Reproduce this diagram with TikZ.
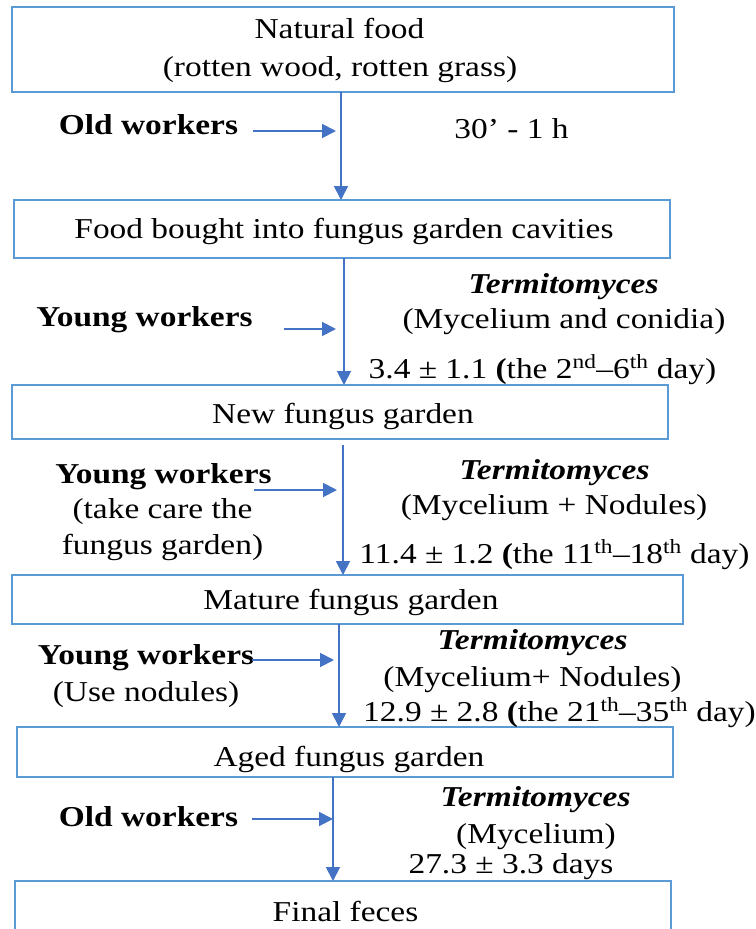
\documentclass[tikz,border=0pt]{standalone}
\usepackage{fontspec}
\setmainfont{Liberation Serif}[FakeStretch=1.16]
\usetikzlibrary{arrows.meta}
\definecolor{boxblue}{HTML}{5B9BD5}
\definecolor{arrblue}{HTML}{4472C4}
\tikzset{
  box/.style={draw=boxblue, line width=1.7pt, inner sep=0pt},
  lbl/.style={anchor=base, inner sep=0pt, font=\fontsize{28.8}{32}\selectfont, text=black},
  blbl/.style={lbl, font=\fontsize{28.8}{32}\selectfont\bfseries},
  ilbl/.style={lbl, font=\fontsize{28.8}{32}\selectfont\bfseries\itshape},
  arr/.style={draw=arrblue, line width=1.9pt, -{Triangle[length=14pt,width=14pt]}},
}
\begin{document}
\begin{tikzpicture}[x=1pt,y=-1pt]
\clip (0,0) rectangle (755,929);
\fill[white] (0,0) rectangle (755,929);

% boxes
\node[box, minimum width=662pt, minimum height=85pt] (b1) at (343,49.5) {};
\node[box, minimum width=656pt, minimum height=58pt] (b2) at (342,229) {};
\node[box, minimum width=656pt, minimum height=54pt] (b3) at (340,412) {};
\node[box, minimum width=671pt, minimum height=49pt] (b4) at (347.5,599.5) {};
\node[box, minimum width=656pt, minimum height=50pt] (b5) at (345,752) {};
\node[box, minimum width=656pt, minimum height=80pt] (b6) at (343,921) {};

% box texts
\node[lbl] (t1a) at (339.5,38) {Natural food};
\node[lbl] (t1b) at (340,76) {(rotten wood, rotten grass)};
\node[lbl] (t2) at (344,238) {Food bought into fungus garden cavities};
\node[lbl] (t3) at (343,423) {New fungus garden};
\node[lbl] (t4) at (351,609) {Mature fungus garden};
\node[lbl] (t5) at (349,766) {Aged fungus garden};
\node[lbl] (t6) at (345.5,921) {Final feces};

% step 1
\node[blbl] (w1) at (148.5,134) {Old workers};
\node[lbl] (d1) at (511.5,138) {30’ - 1 h};
\coordinate (v1s) at (341,92);
\coordinate (v1e) at (341,200);
\coordinate (h1s) at (253,131);
\coordinate (h1e) at (336,131);
\draw[arr] (v1s) -- (v1e);
\draw[arr] (h1s) -- (h1e);

% step 2
\node[blbl] (w2) at (144.5,326) {Young workers};
\node[ilbl] (f2a) at (563.5,293) {Termitomyces};
\node[lbl] (f2b) at (564,328) {(Mycelium and conidia)};
\node[lbl] (f2c) at (542.5,378) {3.4 ± 1.1 \textbf{(}the 2\textsuperscript{nd}–6\textsuperscript{th} day)};
\coordinate (v2s) at (344,258);
\coordinate (v2e) at (344,385);
\coordinate (h2s) at (284,329);
\coordinate (h2e) at (336,329);
\draw[arr] (v2s) -- (v2e);
\draw[arr] (h2s) -- (h2e);

% step 3
\node[blbl] (w3a) at (163.5,483) {Young workers};
\node[lbl] (w3b) at (162.5,518) {(take care the};
\node[lbl] (w3c) at (162.5,554) {fungus garden)};
\node[ilbl] (f3a) at (554.5,479) {Termitomyces};
\node[lbl] (f3b) at (554,514) {(Mycelium + Nodules)};
\node[lbl] (f3c) at (554.5,563) {11.4 ± 1.2 \textbf{(}the 11\textsuperscript{th}–18\textsuperscript{th} day)};
\coordinate (v3s) at (343,445);
\coordinate (v3e) at (343,575);
\coordinate (h3s) at (254,490);
\coordinate (h3e) at (337,490);
\draw[arr] (v3s) -- (v3e);
\draw[arr] (h3s) -- (h3e);

% step 4
\node[blbl] (w4a) at (146,664) {Young workers};
\node[lbl] (w4b) at (146,701) {(Use nodules)};
\node[ilbl] (f4a) at (532.5,649) {Termitomyces};
\node[lbl] (f4b) at (532.5,686) {(Mycelium+ Nodules)};
\node[lbl] (f4c) at (559.5,721) {12.9 ± 2.8 \textbf{(}the 21\textsuperscript{th}–35\textsuperscript{th} day)};
\coordinate (v4s) at (339,624);
\coordinate (v4e) at (339,727);
\coordinate (h4s) at (252,660);
\coordinate (h4e) at (334,660);
\draw[arr] (v4s) -- (v4e);
\draw[arr] (h4s) -- (h4e);

% step 5
\node[blbl] (w5) at (148.5,826) {Old workers};
\node[ilbl] (f5a) at (535.5,806) {Termitomyces};
\node[lbl] (f5b) at (536,843) {(Mycelium)};
\node[lbl] (f5c) at (511,873) {27.3 ± 3.3 days};
\coordinate (v5s) at (333,777);
\coordinate (v5e) at (333,881);
\coordinate (h5s) at (252,819);
\coordinate (h5e) at (333,819);
\draw[arr] (v5s) -- (v5e);
\draw[arr] (h5s) -- (h5e);
\end{tikzpicture}
\end{document}
